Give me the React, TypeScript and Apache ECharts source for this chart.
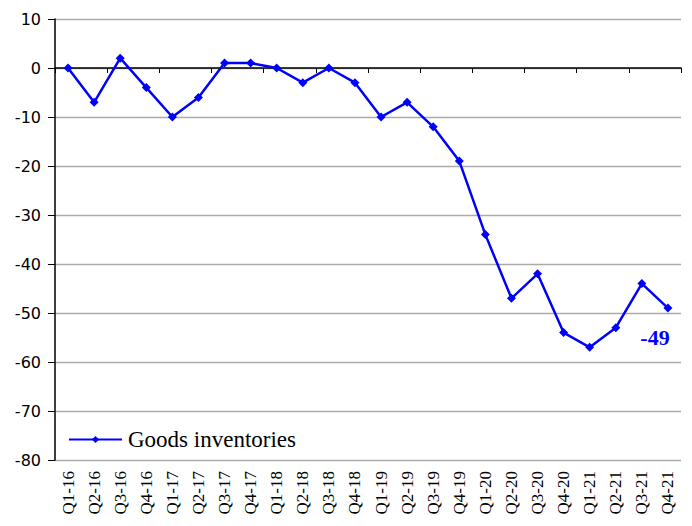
import React, { useEffect, useRef } from "react";
import * as echarts from "echarts";

const categories = [
  "Q1-16", "Q2-16", "Q3-16", "Q4-16",
  "Q1-17", "Q2-17", "Q3-17", "Q4-17",
  "Q1-18", "Q2-18", "Q3-18", "Q4-18",
  "Q1-19", "Q2-19", "Q3-19", "Q4-19",
  "Q1-20", "Q2-20", "Q3-20", "Q4-20",
  "Q1-21", "Q2-21", "Q3-21", "Q4-21",
];
const goodsInventories = [
  0, -7, 2, -4,
  -10, -6, 1, 1,
  0, -3, 0, -3,
  -10, -7, -12, -19,
  -34, -47, -42, -54,
  -57, -53, -44, -49,
];
const seriesName = "Goods inventories";
const yMin = -80;
const yMax = 10;
const yInterval = 10;

export default function App() {
  const ref = useRef<HTMLDivElement>(null);
  useEffect(() => {
    if (!ref.current) return;
    const chart = echarts.init(ref.current, null, { renderer: "svg" });
    const lastIdx = goodsInventories.length - 1;
    chart.setOption({
      animation: false,
      backgroundColor: "#ffffff",
      grid: { left: 55, right: 11, top: 19, bottom: 66, containLabel: false },
      legend: {
        data: [seriesName],
        left: 63,
        top: 423,
        itemWidth: 53,
        itemHeight: 9,
        itemGap: 4,
        textStyle: { fontFamily: "Liberation Serif", fontSize: 23, color: "#000", padding: [0, 0, 0, 1] },
      },
      xAxis: [
        {
          type: "category",
          data: categories,
          position: "bottom",
          boundaryGap: true,
          axisLine: { onZero: true, lineStyle: { color: "#000", width: 1.5 } },
          axisTick: { show: true, length: 5, lineStyle: { color: "#000", width: 1 } },
          axisLabel: { show: false },
          splitLine: { show: false },
        },
        {
          type: "category",
          data: categories,
          position: "bottom",
          boundaryGap: true,
          axisLine: { show: false, onZero: false },
          axisTick: { show: false },
          axisLabel: {
            rotate: 90,
            margin: 11,
            interval: 0,
            fontFamily: "Liberation Serif",
            fontSize: 17,
            color: "#000",
          },
          splitLine: { show: false },
        },
      ],
      yAxis: {
        type: "value",
        min: yMin,
        max: yMax,
        interval: yInterval,
        axisLine: { show: true, lineStyle: { color: "#000", width: 1.5 } },
        axisTick: { show: true, length: 7, lineStyle: { color: "#000" } },
        axisLabel: {
          margin: 14,
          fontFamily: "DejaVu Sans",
          fontSize: 16,
          color: "#000",
        },
        splitLine: { show: true, lineStyle: { color: "#aaaaaa", width: 1.3 } },
      },
      series: [
        {
          name: seriesName,
          type: "line",
          xAxisIndex: 0,
          data: goodsInventories.map((v, i) =>
            i === lastIdx
              ? {
                  value: v,
                  label: {
                    show: true,
                    position: "bottom",
                    distance: 14,
                    offset: [-13, 0],
                    fontFamily: "Liberation Serif",
                    fontWeight: "bold",
                    fontSize: 22,
                    color: "#0000ff",
                  },
                }
              : v
          ),
          symbol: "diamond",
          symbolSize: 9,
          lineStyle: { color: "#0000ff", width: 2.5 },
          itemStyle: { color: "#0000ff" },
        },
      ],
    });
    return () => chart.dispose();
  }, []);
  return (
    <div
      ref={ref}
      style={{ position: "absolute", left: 0, top: 0, width: 692, height: 526 }}
    />
  );
}
